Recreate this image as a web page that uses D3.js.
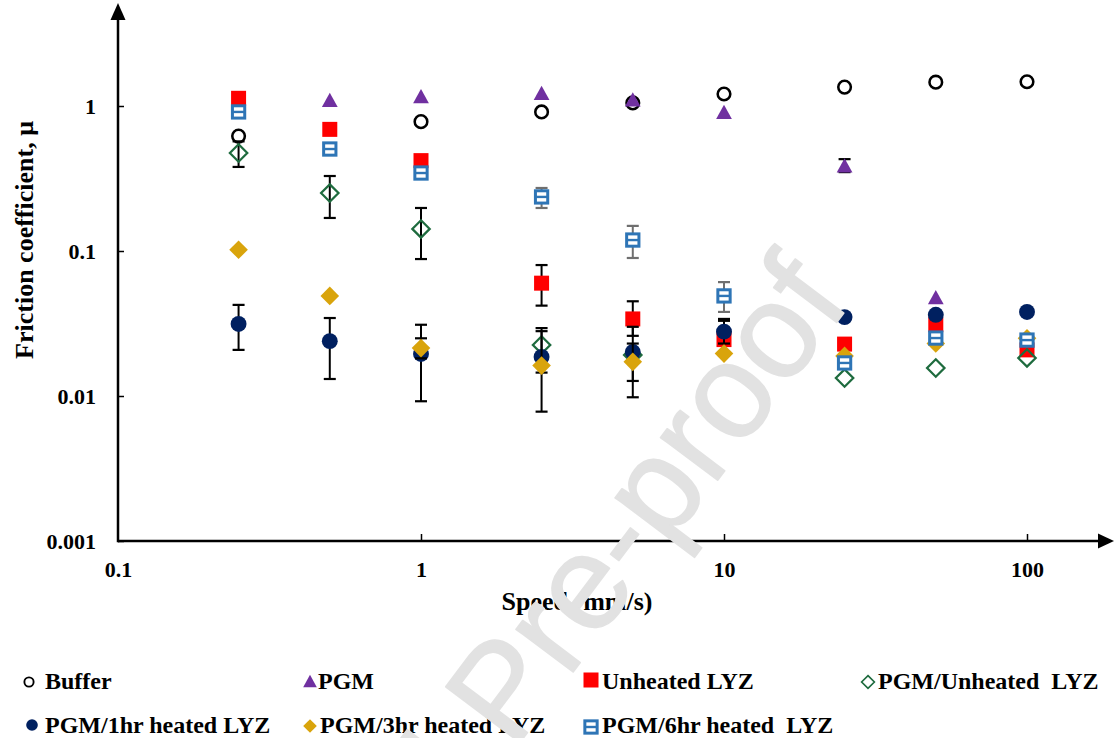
<!DOCTYPE html>
<html>
<head>
<meta charset="utf-8">
<script src="https://cdn.jsdelivr.net/npm/d3@7"></script>
<style>
  body { margin: 0; background: #fff; }
  svg { display: block; }
  text { font-family: "Liberation Serif", "Times New Roman", serif; font-weight: bold; fill: #000; }
</style>
</head>
<body>
<svg id="chart" width="1114" height="738"></svg>
<script>
// Sliding speeds (mm/s)
const speeds = [0.25, 0.5, 1, 2.5, 5, 10, 25, 50, 100];

// Friction coefficient per lubricant (null = no point shown)
const buffer      = [0.62, null, 0.78, 0.91, 1.05, 1.21, 1.35, 1.46, 1.47];
const pgm         = [null, 1.10, 1.17, 1.23, 1.11, 0.91, 0.39, 0.048, null];
const unheated    = [1.13, 0.69, 0.42, 0.060, 0.034, 0.0245, 0.0228, 0.031, 0.0208];
const pgmUnheated = [0.474, 0.251, 0.142, 0.0225, 0.0192, null, 0.0133, 0.0156, 0.0183];
const pgm1hr      = [0.0314, 0.0239, 0.0195, 0.0186, 0.0201, 0.0278, 0.035, 0.0363, 0.038];
const pgm3hr      = [0.102, 0.049, 0.0214, 0.0162, 0.0172, 0.0196, 0.0189, 0.023, 0.025];
const pgm6hr      = [0.91, 0.505, 0.345, 0.236, 0.119, 0.049, 0.0169, 0.0251, 0.0243];

// Error bar extents (lower / upper)
const pgmLo         = [null, null, null, null, null, null, 0.35, null, null];
const pgmHi         = [null, null, null, null, null, null, 0.43, null, null];
const unheatedLo    = [null, null, null, 0.042, 0.026, 0.019, null, null, null];
const unheatedHi    = [null, null, null, 0.080, 0.045, 0.033, null, null, null];
const pgmUnheatedLo = [0.38, 0.169, 0.088, 0.0145, null, null, null, null, null];
const pgmUnheatedHi = [0.57, 0.329, 0.198, 0.0294, null, null, null, null, null];
const pgm1hrLo      = [0.0208, 0.0131, 0.0092, null, 0.0098, 0.023, null, null, null];
const pgm1hrHi      = [0.0425, 0.0345, 0.031, null, 0.030, 0.034, null, null, null];
const pgm3hrLo      = [null, null, 0.0182, 0.0078, 0.0127, null, null, null, null];
const pgm3hrHi      = [null, null, 0.025, 0.028, 0.023, null, null, null, null];
const pgm6hrLo      = [null, null, null, 0.198, 0.0895, 0.038, null, null, null];
const pgm6hrHi      = [null, null, null, 0.272, 0.149, 0.061, null, null, null];

const xTicks = [0.1, 1, 10, 100];
const yTicks = [0.001, 0.01, 0.1, 1];

const series = [
  { name: "Buffer",              values: buffer,      shape: "circleOpen",  color: "#000000" },
  { name: "PGM",                 values: pgm,         shape: "triangle",    color: "#7030A0", lo: pgmLo, hi: pgmHi },
  { name: "Unheated LYZ",        values: unheated,    shape: "square",      color: "#FF0000", lo: unheatedLo, hi: unheatedHi },
  { name: "PGM/Unheated  LYZ",   values: pgmUnheated, shape: "diamondOpen", color: "#1E6B3E", lo: pgmUnheatedLo, hi: pgmUnheatedHi },
  { name: "PGM/1hr heated LYZ",  values: pgm1hr,      shape: "circle",      color: "#002060", lo: pgm1hrLo, hi: pgm1hrHi },
  { name: "PGM/3hr heated LYZ",  values: pgm3hr,      shape: "diamond",     color: "#D9A40C", lo: pgm3hrLo, hi: pgm3hrHi },
  { name: "PGM/6hr heated  LYZ", values: pgm6hr,      shape: "squareOpen",  color: "#2E75B6", lo: pgm6hrLo, hi: pgm6hrHi, errColor: "#6f6f6f" }
];

const svg = d3.select("#chart");

const x = d3.scaleLog().domain([0.1, 100]).range([118, 1027]);
const y = d3.scaleLog().domain([0.001, 1]).range([541, 106]);

// Axes
const xAxis = svg.append("g")
  .attr("transform", `translate(0,${y(0.001)})`)
  .call(d3.axisBottom(x).tickValues(xTicks).tickSize(-7).tickPadding(20).tickFormat(d3.format("~g")));
const yAxis = svg.append("g")
  .attr("transform", `translate(${x(0.1)},0)`)
  .call(d3.axisLeft(y).tickValues(yTicks).tickSize(-6).tickPadding(22).tickFormat(d3.format("~g")));
[xAxis, yAxis].forEach(g => {
  g.select(".domain").remove();
  g.selectAll(".tick line").attr("stroke", "#000").attr("stroke-width", 1.5);
  g.selectAll(".tick text").style("font-size", "22px")
    .style("font-family", '"Liberation Serif", "Times New Roman", serif').style("font-weight", "bold");
});
xAxis.selectAll(".tick").filter(d => d === 0.1).select("line").remove();

const x0 = x(0.1), y0 = y(0.001);
svg.append("line").attr("x1", x0).attr("x2", 1100).attr("y1", y0).attr("y2", y0)
  .attr("stroke", "#000").attr("stroke-width", 2.5);
svg.append("path").attr("d", `M1114,${y0} L1098,${y0 - 7.5} L1098,${y0 + 7.5} Z`).attr("fill", "#000");
svg.append("line").attr("x1", x0).attr("x2", x0).attr("y1", y0 + 1.2).attr("y2", 18)
  .attr("stroke", "#000").attr("stroke-width", 2.5);
svg.append("path").attr("d", `M${x0},3 L${x0 - 7.5},20 L${x0 + 7.5},20 Z`).attr("fill", "#000");

// Axis titles
svg.append("text").attr("x", 577).attr("y", 610).attr("text-anchor", "middle")
  .style("font-size", "26px").text("Speed (mm/s)");
svg.append("text").attr("transform", "translate(33,240) rotate(-90)").attr("text-anchor", "middle")
  .style("font-size", "26px").text("Friction coefficient, μ");

// Marker drawing
function drawMarker(g, shape, color, cx, cy, s) {
  switch (shape) {
    case "circleOpen":
      g.append("circle").attr("cx", cx).attr("cy", cy).attr("r", s * 0.42)
        .attr("fill", "#fff").attr("stroke", color).attr("stroke-width", s * 0.17);
      break;
    case "circle":
      g.append("circle").attr("cx", cx).attr("cy", cy).attr("r", s * 0.53).attr("fill", color);
      break;
    case "triangle": {
      const h = s * 0.95, w = s * 1.05;
      g.append("path").attr("d", `M${cx},${cy - h / 2} L${cx + w / 2},${cy + h / 2} L${cx - w / 2},${cy + h / 2} Z`)
        .attr("fill", color);
      break;
    }
    case "square":
      g.append("rect").attr("x", cx - s / 2).attr("y", cy - s / 2).attr("width", s).attr("height", s)
        .attr("fill", color);
      break;
    case "squareOpen": {
      const a = s * 0.82;
      g.append("rect").attr("x", cx - a / 2).attr("y", cy - a / 2).attr("width", a).attr("height", a)
        .attr("fill", "#fff").attr("stroke", color).attr("stroke-width", s * 0.2);
      g.append("line").attr("x1", cx - a / 2).attr("x2", cx + a / 2).attr("y1", cy).attr("y2", cy)
        .attr("stroke", color).attr("stroke-width", s * 0.16);
      break;
    }
    case "diamond": {
      const r = s * 0.62;
      g.append("path").attr("d", `M${cx},${cy - r} L${cx + r},${cy} L${cx},${cy + r} L${cx - r},${cy} Z`)
        .attr("fill", color);
      break;
    }
    case "diamondOpen": {
      const r = s * 0.58;
      g.append("path").attr("d", `M${cx},${cy - r} L${cx + r},${cy} L${cx},${cy + r} L${cx - r},${cy} Z`)
        .attr("fill", "none").attr("stroke", color).attr("stroke-width", s * 0.15);
      break;
    }
  }
}

const plot = svg.append("g");
series.forEach(sr => {
  const g = plot.append("g");
  const errG = g.append("g");
  const markG = g.append("g");
  speeds.forEach((sp, i) => {
    const v = sr.values[i];
    if (v == null) return;
    const cx = x(sp), cy = y(v);
    if (sr.lo && sr.lo[i] != null) {
      const yl = y(sr.lo[i]), yh = y(sr.hi[i]);
      const col = sr.errColor || "#000";
      errG.append("line").attr("x1", cx).attr("x2", cx).attr("y1", yl).attr("y2", yh)
        .attr("stroke", col).attr("stroke-width", 2);
      [yl, yh].forEach(yy => errG.append("line").attr("x1", cx - 6).attr("x2", cx + 6)
        .attr("y1", yy).attr("y2", yy).attr("stroke", col).attr("stroke-width", 2.2));
    }
    drawMarker(markG, sr.shape, sr.color, cx, cy, 15);
  });
});

// Legend
const legendPos = [
  { mx: 29,  my: 682, tx: 45,  ty: 689 },
  { mx: 310, my: 681, tx: 318, ty: 689 },
  { mx: 591, my: 680, tx: 602, ty: 689 },
  { mx: 868, my: 682, tx: 878, ty: 689 },
  { mx: 32,  my: 725, tx: 45,  ty: 733 },
  { mx: 310, my: 726, tx: 320, ty: 733 },
  { mx: 591, my: 727, tx: 602, ty: 733 }
];
const legendSize = [11, 13, 15, 11, 11, 11, 15];
const legend = svg.append("g");
series.forEach((sr, i) => {
  const p = legendPos[i];
  drawMarker(legend, sr.shape, sr.color, p.mx, p.my, legendSize[i]);
  legend.append("text").attr("x", p.tx).attr("y", p.ty).style("font-size", "24px")
    .style("white-space", "pre").attr("xml:space", "preserve").text(sr.name);
});

// Watermark across the page
svg.append("text")
  .attr("transform", "translate(852,302) rotate(-53)")
  .attr("text-anchor", "end")
  .style("font-family", '"Liberation Sans", Arial, sans-serif')
  .style("font-weight", "normal")
  .style("font-size", "135px")
  .style("fill", "#e2e2e2")
  .style("stroke", "#e2e2e2")
  .style("stroke-width", "1.5px")
  .style("stroke-linejoin", "round")
  .text("Journal Pre-proof");
</script>
</body>
</html>
